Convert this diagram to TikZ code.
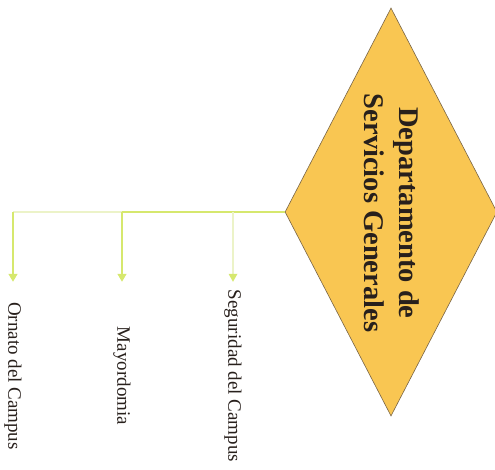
\documentclass[tikz,border=0pt]{standalone}
\usepackage{fontspec}
\setmainfont{Liberation Serif}
\usetikzlibrary{shapes.geometric,arrows.meta}
\definecolor{diafill}{RGB}{249,198,82}
\definecolor{diadraw}{RGB}{120,100,70}
\definecolor{lime}{RGB}{214,232,110}
\definecolor{limefaint}{RGB}{236,243,200}
\definecolor{txt}{RGB}{40,32,28}
\tikzset{
  dia/.style={diamond, draw=diadraw, line width=0.6pt, fill=diafill, minimum width=212pt, minimum height=408pt, inner sep=0pt},
  title/.style={rotate=-90, align=center, text=txt, font=\fontsize{28.5}{35}\selectfont\bfseries},
  lab/.style={rotate=-90, text=txt, font=\fontsize{19}{22}\selectfont, minimum width=188pt, inner sep=0pt},
  conn/.style={draw=lime, line width=1.4pt},
  connf/.style={draw=limefaint, line width=1.4pt},
  tip/.style={-{Triangle[width=9pt,length=8pt,fill=lime]}}
}
\begin{document}
\begin{tikzpicture}[x=1pt,y=1pt]
\useasboundingbox (0,0) rectangle (495,469);
\node[dia] (d) at (391,257) {};
\node[title] (t) at (392,256) {Departamento de\\Servicios Generales};
\node[lab] (seg) at (233,93) {Seguridad del Campus};
\node[lab] (may) at (122,93) {Mayordomia};
\node[lab] (orn) at (13,93) {Ornato del Campus};
\coordinate (j1) at (d.west -| seg.center);
\coordinate (j2) at (d.west -| may.center);
\coordinate (j3) at (d.west -| orn.center);
\coordinate (s1) at ([yshift=8pt]seg.west);
\draw[conn] (d.west) -- (j1) -- (j2);
\draw[connf] (j2) -- (j3);
\draw[connf] (j1) -- (s1);
\fill[lime] (seg.west) -- ([xshift=-4.5pt]s1) -- ([xshift=4.5pt]s1) -- cycle;
\draw[conn, tip] (j2) -- (may.west);
\draw[conn, tip] (j3) -- (orn.west);
\end{tikzpicture}
\end{document}
